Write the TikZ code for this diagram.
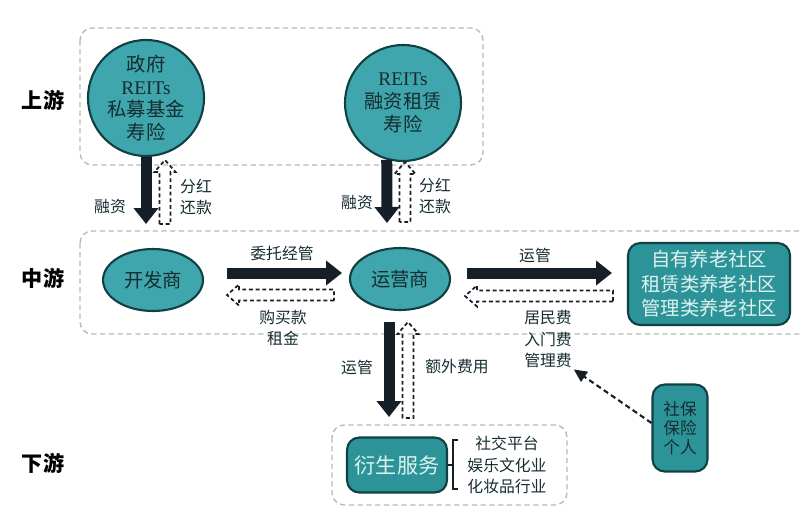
\documentclass[tikz,border=0pt]{standalone}
\usepackage{fontspec}
\newfontfamily\cjk{Noto Sans CJK SC}
\newfontfamily\lat{Liberation Serif}
\usetikzlibrary{arrows.meta,calc,shapes.geometric}
\definecolor{tealA}{RGB}{62,166,172}
\definecolor{tealB}{RGB}{44,148,152}
\definecolor{tealD}{RGB}{16,64,68}
\definecolor{inkD}{RGB}{22,44,48}
\definecolor{inkL}{RGB}{222,242,240}
\definecolor{navy}{RGB}{22,30,40}
\begin{document}
\begin{tikzpicture}
  [x=0.02cm,y=-0.02cm,
   every node/.style={font=\cjk,align=center},
   ball/.style={circle,draw=tealD,line width=1.2pt,fill=tealA,text=inkD,minimum size=2.32cm,inner sep=0pt,font=\cjk\fontsize{11}{13}\selectfont},
   egg/.style={ellipse,draw=tealD,line width=1.2pt,fill=tealA,text=inkD,minimum width=2cm,minimum height=1.24cm,font=\cjk\fontsize{11}{13}\selectfont},
   card/.style={rectangle,rounded corners=7pt,draw=tealD,line width=1.2pt,fill=tealB,text=inkL,inner sep=2pt},
   lab/.style={font=\cjk\fontsize{9}{12}\selectfont,text=inkD,inner sep=1pt},
   lvl/.style={font=\cjk\bfseries\fontsize{12}{14}\selectfont},
   grp/.style={draw=gray!55,dash pattern=on 3pt off 2pt,line width=0.8pt,rounded corners=7pt},
   fat/.style={navy,line width=0.22cm,-{Triangle[width=0.48cm,length=0.32cm]}},
   hollow/.style={draw=navy,line width=1pt,dash pattern=on 2.2pt off 1.6pt,to path={
     ($(\tikztostart)!0.11cm!90:(\tikztotarget)$)
     -- ($(\tikztotarget)!0.24cm!(\tikztostart)!0.11cm!90:(\tikztotarget)$)
     -- ($(\tikztotarget)!0.24cm!(\tikztostart)!0.21cm!90:(\tikztotarget)$)
     -- (\tikztotarget)
     -- ($(\tikztotarget)!0.24cm!(\tikztostart)!0.21cm!-90:(\tikztotarget)$)
     -- ($(\tikztotarget)!0.24cm!(\tikztostart)!0.11cm!-90:(\tikztotarget)$)
     -- ($(\tikztostart)!0.11cm!-90:(\tikztotarget)$) -- cycle}}]
  \useasboundingbox (0,0) rectangle (800,531);
  \draw[grp] (80,28) rectangle (483,165);
  \draw[grp] (80,231) rectangle (812,334);
  \draw[grp] (332,425) rectangle (567,505);

  \node[lvl] (up) at (43,100) {上游};
  \node[lvl] (mid) at (43,278) {中游};
  \node[lvl] (down) at (43,463) {下游};

  \node[ball] (gov) at (146,98) {政府\\{\lat REITs}\\私募基金\\寿险};
  \node[ball] (reit) at (403,103) {{\lat REITs}\\融资租赁\\寿险};
  \node[egg] (kfs) at (153,280) {开发商};
  \node[egg] (yys) at (400,279) {运营商};
  \node[card,minimum width=3.24cm,minimum height=1.64cm,font=\cjk\fontsize{11}{14}\selectfont] (sq) at (709,284) {自有养老社区\\租赁类养老社区\\管理类养老社区};
  \node[card,minimum width=2cm,minimum height=1.1cm,font=\cjk\fontsize{12}{14}\selectfont] (ys) at (397,465) {衍生服务};
  \node[card,text=inkD,minimum width=1.1cm,minimum height=1.74cm,font=\cjk\fontsize{9.5}{11}\selectfont] (sb) at (680,428) {社保\\保险\\个人};

  \node[lab] (lg1) at (110,207) {融资};
  \node[lab] (lg2) at (196,197) {分红\\还款};
  \node[lab] (lr1) at (357,203) {融资};
  \node[lab] (lr2) at (435,196) {分红\\还款};
  \node[lab] (lm1) at (282,253) {委托经管};
  \node[lab] (lm2) at (283,328) {购买款\\租金};
  \node[lab] (lm3) at (535,255) {运管};
  \node[lab] (fee) at (548,339) {居民费\\入门费\\管理费};
  \node[lab] (ld1) at (357,367) {运管};
  \node[lab] (ld2) at (457,367) {额外费用};
  \node[lab] (items) at (507,465) {社交平台\\娱乐文化业\\化妆品行业};

  \coordinate (g1) at (146,224);
  \coordinate (g2) at (165,224);
  \coordinate (g3) at (165,160);
  \coordinate (r1) at (387,223);
  \coordinate (r2) at (405,222);
  \coordinate (r3) at (405,162);
  \coordinate (k1) at (227,273);
  \coordinate (k2) at (342,273);
  \coordinate (k3) at (334,295);
  \coordinate (k4) at (227,295);
  \coordinate (y1) at (467,273);
  \coordinate (y2) at (612,273);
  \coordinate (y3) at (613,296);
  \coordinate (y4) at (465,296);
  \coordinate (y5) at (389,322);
  \coordinate (y6) at (389,417);
  \coordinate (y7) at (408,418);
  \coordinate (y8) at (408,322);

  \foreach \from/\to in {gov.south/g1, reit.254/r1, k1/k2, y1/y2, y5/y6}
    \draw[fat] (\from) -- (\to);
  \foreach \from/\to in {g2/g3, r2/r3, k3/k4, y3/y4, y7/y8}
    \draw[hollow] (\from) to (\to);

  \draw[navy,line width=1.2pt,dash pattern=on 3pt off 2pt,-{Triangle[width=0.24cm,length=0.26cm]}] (sb.170) -- (fee.south east);
  \draw[navy,line width=1pt] (ys.east) -- (453,465);
  \draw[navy,line width=1pt] (458,440) -- (453,440) -- (453,489) -- (458,489);
\end{tikzpicture}
\end{document}
